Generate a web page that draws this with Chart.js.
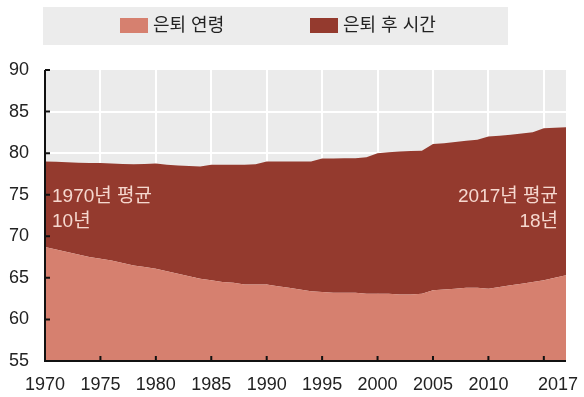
<!DOCTYPE html>
<html><head><meta charset="utf-8">
<script src="https://cdn.jsdelivr.net/npm/chart.js@4.4.1/dist/chart.umd.min.js"></script>
<style>html,body{margin:0;padding:0;background:#fff}#wrap{width:584px;height:397px}</style>
</head><body><div id="wrap"><canvas id="c" width="584" height="397"></canvas></div>
<script>
const years = [1970,1971,1972,1973,1974,1975,1976,1977,1978,1979,1980,1981,1982,1983,1984,1985,1986,1987,1988,1989,1990,1991,1992,1993,1994,1995,1996,1997,1998,1999,2000,2001,2002,2003,2004,2005,2006,2007,2008,2009,2010,2011,2012,2013,2014,2015,2016,2017];
const retirementAge = [68.7,68.4,68.1,67.8,67.5,67.3,67.1,66.8,66.5,66.3,66.1,65.8,65.5,65.2,64.9,64.7,64.5,64.4,64.2,64.2,64.2,64.0,63.8,63.6,63.4,63.3,63.2,63.2,63.2,63.1,63.1,63.1,63.0,63.0,63.1,63.5,63.6,63.7,63.8,63.8,63.7,63.9,64.1,64.3,64.5,64.7,65.0,65.3];
const lifeEnd = [79.0,78.95,78.9,78.85,78.8,78.8,78.75,78.7,78.65,78.7,78.75,78.6,78.5,78.45,78.4,78.6,78.6,78.6,78.6,78.65,79.0,79.0,79.0,79.0,79.0,79.35,79.35,79.4,79.4,79.5,80.0,80.1,80.2,80.25,80.3,81.1,81.2,81.35,81.5,81.6,82.0,82.1,82.2,82.35,82.5,83.0,83.05,83.1];
const seriesLabels = ['은퇴 연령', '은퇴 후 시간'];
const xTickValues = [1970,1975,1980,1985,1990,1995,2000,2005,2010,2015,2017];
const xTickLabels = [1970,1975,1980,1985,1990,1995,2000,2005,2010];
const xEndLabel = 2017;
const yTickValues = [55,60,65,70,75,80,85,90];
const noteLeft = ['1970년 평균', '10년'];
const noteRight = ['2017년 평균', '18년'];

const FONT = '"Liberation Sans", "Noto Sans CJK KR", sans-serif';
const C_LIGHT = '#d6806f';
const C_DARK = '#943a2e';

const decor = {
  id: 'decor',
  beforeDraw(chart) {
    const {ctx, chartArea: a} = chart;
    ctx.save();
    ctx.fillStyle = '#fff';
    ctx.fillRect(0, 0, chart.width, chart.height);
    ctx.fillStyle = '#ebebeb';
    ctx.fillRect(a.left, a.top, a.right - a.left, a.bottom - a.top);
    // legend
    ctx.fillStyle = '#ececec';
    ctx.fillRect(43, 7, 465, 38);
    const items = [{x: 120, c: C_LIGHT, t: seriesLabels[0]}, {x: 310, c: C_DARK, t: seriesLabels[1]}];
    ctx.font = '18px ' + FONT;
    ctx.textBaseline = 'middle';
    ctx.textAlign = 'left';
    items.forEach(it => {
      ctx.fillStyle = it.c;
      ctx.fillRect(it.x, 18, 28, 15);
      ctx.fillStyle = '#222';
      ctx.fillText(it.t, it.x + 33, 26);
    });
    ctx.restore();
  },
  afterDatasetsDraw(chart) {
    const {ctx, chartArea: a, scales: {x, y}} = chart;
    ctx.save();
    ctx.strokeStyle = '#111';
    ctx.lineWidth = 2;
    ctx.beginPath();
    ctx.moveTo(a.left, a.top);
    ctx.lineTo(a.left, a.bottom);
    ctx.lineTo(a.right, a.bottom);
    ctx.stroke();
    ctx.beginPath();
    yTickValues.forEach(v => {
      if (v === 55) return;
      const py = y.getPixelForValue(v);
      ctx.moveTo(a.left, py); ctx.lineTo(a.left + 5, py);
    });
    xTickValues.forEach(v => {
      if (v === 1970 || v === 2017) return;
      const px = x.getPixelForValue(v);
      ctx.moveTo(px, a.bottom); ctx.lineTo(px, a.bottom - 5);
    });
    ctx.stroke();
    // end label of x axis, pulled inside the canvas
    ctx.fillStyle = '#222';
    ctx.font = '18px ' + FONT;
    ctx.textAlign = 'center';
    ctx.textBaseline = 'middle';
    ctx.fillText(String(xEndLabel), x.getPixelForValue(xEndLabel) - 8, a.bottom + 13 + 10.8);
    // notes
    ctx.fillStyle = '#f6d8cf';
    ctx.font = '19px ' + FONT;
    ctx.textBaseline = 'middle';
    ctx.textAlign = 'left';
    const lx = x.getPixelForValue(1970) + 7;
    ctx.fillText(noteLeft[0], lx, y.getPixelForValue(74.7));
    ctx.fillText(noteLeft[1], lx, y.getPixelForValue(71.8));
    ctx.textAlign = 'right';
    const rx = x.getPixelForValue(2017) - 8;
    ctx.fillText(noteRight[0], rx, y.getPixelForValue(74.7));
    ctx.fillText(noteRight[1], rx, y.getPixelForValue(71.8));
    ctx.restore();
  }
};

new Chart(document.getElementById('c'), {
  type: 'line',
  data: {
    labels: years,
    datasets: [
      {label: seriesLabels[0], data: years.map((yr, i) => ({x: yr, y: retirementAge[i]})), fill: 'start', backgroundColor: C_LIGHT, borderWidth: 0, pointRadius: 0, tension: 0},
      {label: seriesLabels[1], data: years.map((yr, i) => ({x: yr, y: lifeEnd[i]})), fill: '-1', backgroundColor: C_DARK, borderWidth: 0, pointRadius: 0, tension: 0}
    ]
  },
  options: {
    responsive: false,
    animation: false,
    layout: {padding: {top: 70, right: 0, left: 0, bottom: 0}},
    plugins: {legend: {display: false}, tooltip: {enabled: false}},
    scales: {
      x: {
        type: 'linear', min: 1970, max: 2017,
        afterBuildTicks(s) { s.ticks = xTickValues.map(v => ({value: v})); },
        afterFit(s) { s.height = 36; s.paddingRight = 18; s.paddingLeft = 0; },
        ticks: {autoSkip: false, maxRotation: 0, padding: 13, color: '#222', font: {size: 18, family: FONT},
          callback: v => xTickLabels.includes(v) ? String(v) : ''},
        grid: {drawTicks: false, lineWidth: 2, color: c => (c.tick && c.tick.value > 1970 && c.tick.value < 2017) ? '#ffffff' : 'rgba(0,0,0,0)'},
        border: {display: false}
      },
      y: {
        min: 55, max: 90,
        afterBuildTicks(s) { s.ticks = yTickValues.map(v => ({value: v})); },
        afterFit(s) { s.width = 45; },
        ticks: {padding: 16, color: '#222', font: {size: 18, family: FONT}},
        grid: {drawTicks: false, lineWidth: 2, color: c => (c.tick && c.tick.value > 55 && c.tick.value < 90) ? '#ffffff' : 'rgba(0,0,0,0)'},
        border: {display: false}
      }
    }
  },
  plugins: [decor]
});
</script>
</body></html>
